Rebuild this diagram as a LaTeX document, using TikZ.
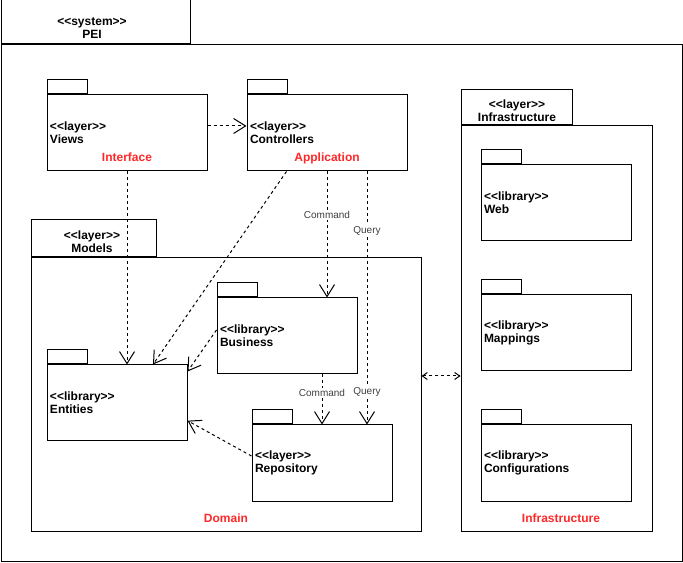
\documentclass[tikz,border=0pt]{standalone}
\usepackage{fontspec}
\setmainfont{Liberation Sans}
\usepackage{tikz}
\usetikzlibrary{positioning,arrows.meta}
\definecolor{layerred}{RGB}{255,40,40}
\tikzset{
  pkg/.style={draw, line width=0.75pt, minimum height=57pt, inner xsep=2.25pt,
    text width=#1, align=left, font=\fontsize{9}{9.75}\selectfont\bfseries},
  tab/.style={draw, line width=0.75pt, inner sep=0pt, anchor=south west},
  box/.style={draw, line width=0.75pt, inner sep=0pt},
  tabtext/.style={align=center, font=\fontsize{9}{9.75}\selectfont\bfseries},
  layername/.style={text=layerred, font=\fontsize{9}{9.75}\selectfont\bfseries},
  dep/.style={line width=0.75pt, dash pattern=on 2.25pt off 2.25pt,
    -{Straight Barb[length=9pt,width=11.25pt]}},
  link/.style={line width=0.75pt, dash pattern=on 2.25pt off 2.25pt,
    {Straight Barb[length=3.75pt,width=5.25pt]}-{Straight Barb[length=3.75pt,width=5.25pt]}},
  edgelabel/.style={fill=white, inner sep=1pt, text=black!75, font=\fontsize{7.5}{8}\selectfont}
}
\begin{document}
\begin{tikzpicture}[x=0.75pt,y=-0.75pt]
\useasboundingbox (0,0) rectangle (683,563);
% system
\node (sys) [box, minimum width=510.75pt, minimum height=387pt] at (341.5,303) {};
\node (systab) [tab, minimum width=141.75pt, minimum height=33pt] at (sys.north west) {};
\node (systext) [tabtext] at (92,28) {<{}<system>{}>\\PEI};
% interface and application
\node (views) [pkg=115.5pt] at (127,133) {<{}<layer>{}>\\Views};
\node (viewstab) [tab, minimum width=30pt, minimum height=10.5pt] at (views.north west) {};
\node (interface) [layername] at (127,157) {Interface};
\node (ctrl) [pkg=115.5pt] at (327,133) {<{}<layer>{}>\\Controllers};
\node (ctrltab) [tab, minimum width=30pt, minimum height=10.5pt] at (ctrl.north west) {};
\node (application) [layername] at (327,158) {Application};
% domain
\node (models) [box, minimum width=292.5pt, minimum height=204.75pt] at (226,394.5) {};
\node (modelstab) [tab, minimum width=93.75pt, minimum height=27.75pt] at (models.north west) {};
\node (modelstext) [tabtext] at (92,241.5) {<{}<layer>{}>\\Models};
\node (domain) [layername] at (226,518) {Domain};
\node (entities) [pkg=100.5pt] at (117,403) {<{}<library>{}>\\Entities};
\node (entitiestab) [tab, minimum width=30pt, minimum height=10.5pt] at (entities.north west) {};
\node (business) [pkg=100.5pt] at (287,336) {<{}<library>{}>\\Business};
\node (businesstab) [tab, minimum width=30pt, minimum height=10.5pt] at (business.north west) {};
\node (repo) [pkg=100.5pt] at (322,463) {<{}<layer>{}>\\Repository};
\node (repotab) [tab, minimum width=30pt, minimum height=10.5pt] at (repo.north west) {};
% infrastructure
\node (infra) [box, minimum width=143.25pt, minimum height=303.75pt] at (556.5,328.5) {};
\node (infratab) [tab, minimum width=83.25pt, minimum height=26.25pt] at (infra.north west) {};
\node (infratext) [tabtext] at (517,110.5) {<{}<layer>{}>\\Infrastructure};
\node (infraname) [layername] at (561,518) {Infrastructure};
\node (web) [pkg=108pt] at (556,203) {<{}<library>{}>\\Web};
\node (webtab) [tab, minimum width=30pt, minimum height=10.5pt] at (web.north west) {};
\node (mappings) [pkg=108pt] at (556,333) {<{}<library>{}>\\Mappings};
\node (mappingstab) [tab, minimum width=30pt, minimum height=10.5pt] at (mappings.north west) {};
\node (configs) [pkg=108pt] at (556,463) {<{}<library>{}>\\Configurations};
\node (configstab) [tab, minimum width=30pt, minimum height=10.5pt] at (configs.north west) {};
% dependencies
\draw [dep] ([yshift=5.25pt]views.east) -- ([yshift=5.25pt]ctrl.west);
\draw [dep] (views.south) -- (views.south |- entities.north);
\draw [dep] ([xshift=30pt]ctrl.south west) -- ([xshift=27pt]entities.north);
\draw [dep] (ctrl.south) -- node[pos=0.346, edgelabel] {Command} (ctrl.south |- business.north);
\draw [dep] ([xshift=30pt]ctrl.south) -- node[pos=0.235, edgelabel] {Query}
  node[pos=0.873, edgelabel] {Query} ([xshift=30pt]ctrl.south |- repo.north);
\draw [dep] (repo.north |- business.south) -- node[pos=0.37, edgelabel] {Command} (repo.north);
\draw [dep] ([yshift=4.5pt]business.west) -- ([yshift=-5.25pt]entities.north east);
\draw [dep] ([yshift=5.25pt]repo.west) -- ([yshift=-13.25pt]entities.east);
\coordinate (linkend) at ([yshift=13.875pt]models.east);
\draw [link] (linkend) -- (linkend -| infra.west);
\end{tikzpicture}
\end{document}
